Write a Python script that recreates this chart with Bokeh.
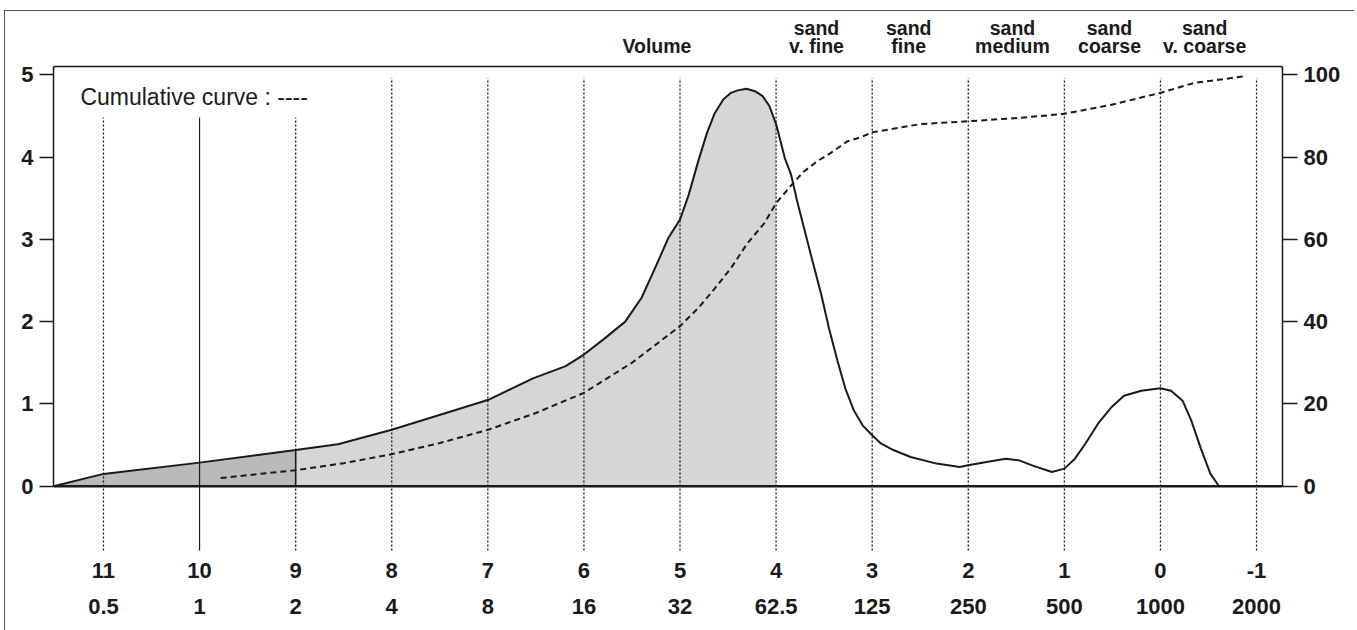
from bokeh.plotting import figure
from bokeh.models import Range1d, LinearAxis, FixedTicker
from bokeh.core.properties import value
from bokeh.embed import file_html
from bokeh.resources import INLINE

# ---------------- data ----------------
phi_ticks = [11, 10, 9, 8, 7, 6, 5, 4, 3, 2, 1, 0, -1]
phi_labels = ["11", "10", "9", "8", "7", "6", "5", "4", "3", "2", "1", "0", "-1"]
micron_labels = ["0.5", "1", "2", "4", "8", "16", "32", "62.5", "125", "250", "500", "1000", "2000"]
left_ticks = [0, 1, 2, 3, 4, 5]
right_ticks = [0, 20, 40, 60, 80, 100]

# volume frequency curve (left axis, %)
vol_phi = [11.52, 11.0, 10.0, 9.0, 8.56, 8.0, 7.0, 6.53, 6.19, 6.0, 5.78, 5.57, 5.40, 5.26, 5.12,
           5.0, 4.91, 4.81, 4.72, 4.64, 4.55, 4.47, 4.40, 4.31, 4.22, 4.14, 4.07, 4.0,
           3.91, 3.845, 3.78, 3.71, 3.62, 3.53, 3.45, 3.36, 3.28, 3.19, 3.10, 3.0, 2.91,
           2.78, 2.60, 2.33, 2.09, 2.0, 1.81, 1.61, 1.47, 1.33, 1.13, 1.0, 0.89, 0.78,
           0.65, 0.51, 0.38, 0.20, 0.0, -0.11, -0.23, -0.32, -0.42, -0.52, -0.61]
vol_val = [0.0, 0.15, 0.287, 0.44, 0.51, 0.686, 1.047, 1.31, 1.46, 1.60, 1.80, 2.0, 2.29, 2.65, 3.02,
           3.24, 3.54, 3.95, 4.29, 4.53, 4.70, 4.78, 4.81, 4.83, 4.80, 4.74, 4.62, 4.40,
           3.99, 3.79, 3.46, 3.14, 2.73, 2.33, 1.92, 1.52, 1.19, 0.92, 0.74, 0.62, 0.52,
           0.44, 0.355, 0.275, 0.234, 0.254, 0.295, 0.335, 0.315, 0.25, 0.174, 0.214, 0.335, 0.52,
           0.76, 0.96, 1.10, 1.16, 1.19, 1.16, 1.04, 0.80, 0.46, 0.15, 0.0]

# cumulative curve (right axis, %)
cum_phi = [9.78, 9.0, 8.5, 8.0, 7.5, 7.0, 6.5, 6.0, 5.5, 5.0, 4.81, 4.64, 4.47, 4.3, 4.12, 4.0,
           3.81, 3.71, 3.57, 3.43, 3.26, 3.12, 3.0, 2.5, 2.0, 1.47, 1.0, 0.51, 0.0, -0.35, -0.87]
cum_pct = [2.0, 3.9, 5.6, 7.8, 10.5, 13.7, 17.8, 22.7, 30.0, 38.9, 43.3, 48.0, 53.0, 59.0, 64.0, 68.8,
           74.0, 76.5, 79.0, 81.0, 83.8, 84.8, 86.0, 88.0, 88.7, 89.5, 90.5, 92.7, 95.6, 98.0, 99.6]

# size classes written above the plot
class_phi = [5.24, 3.58, 2.62, 1.54, 0.53, -0.46]
class_line1 = ["", "sand", "sand", "sand", "sand", "sand"]
class_line2 = ["Volume", "v. fine", "fine", "medium", "coarse", "v. coarse"]

legend_text = "Cumulative curve : ----"

# ---------------- layout constants ----------------
X_LEFT, X_RIGHT = 11.52, -1.27
Y_TOP, Y_BOTTOM = 5.10, -0.805
FONT = "Liberation Sans"
INK = "#1a1a1a"

p = figure(width=1350, height=620,
           x_range=Range1d(X_LEFT, X_RIGHT), y_range=Range1d(Y_BOTTOM, Y_TOP),
           output_backend="svg", toolbar_location=None,
           x_axis_location=None, y_axis_location=None,
           min_border_left=49, min_border_right=72, min_border_top=56, min_border_bottom=78)
p.margin = (10, 3, 0, 4)
p.grid.visible = False
p.outline_line_color = None
p.background_fill_color = "white"
p.border_fill_color = "white"
p.styles = {"outline": "2px solid #222222", "outline-offset": "-2px"}
p.extra_y_ranges = {"cum": Range1d(Y_BOTTOM * 20, Y_TOP * 20)}


def style_axis(ax, size="22px", bold=True):
    ax.major_label_text_font = FONT
    ax.major_label_text_font_size = size
    ax.major_label_text_font_style = "bold" if bold else "normal"
    ax.major_label_text_color = INK
    ax.axis_line_color = INK
    ax.major_tick_line_color = INK
    ax.minor_tick_line_color = None
    ax.axis_line_width = 1.5
    ax.major_tick_line_width = 1.5


left = LinearAxis(ticker=FixedTicker(ticks=left_ticks), bounds=(0, Y_TOP))
style_axis(left)
left.major_tick_out = 14
left.major_tick_in = 0
left.major_label_standoff = 6
p.add_layout(left, "left")

right = LinearAxis(y_range_name="cum", ticker=FixedTicker(ticks=right_ticks), bounds=(0, Y_TOP * 20))
style_axis(right)
right.major_tick_out = 15
right.major_tick_in = 0
right.major_label_standoff = 6
p.add_layout(right, "right")

# top border line + class names (second line)
top1 = LinearAxis(ticker=FixedTicker(ticks=class_phi),
                  major_label_overrides=dict(zip(class_phi, class_line2)))
style_axis(top1, size="19.5px")
top1.major_tick_line_color = None
top1.major_tick_out = 0
top1.major_tick_in = 0
top1.major_label_standoff = 10
p.add_layout(top1, "above")

# class names (first line)
top2 = LinearAxis(ticker=FixedTicker(ticks=class_phi[1:]),
                  major_label_overrides=dict(zip(class_phi[1:], class_line1[1:])))
style_axis(top2, size="19.5px")
top2.axis_line_color = None
top2.major_tick_line_color = None
top2.major_tick_out = 0
top2.major_tick_in = 0
top2.major_label_standoff = -7
p.add_layout(top2, "above")

bot1 = LinearAxis(ticker=FixedTicker(ticks=phi_ticks),
                  major_label_overrides=dict(zip(phi_ticks, phi_labels)))
style_axis(bot1)
bot1.axis_line_color = None
bot1.major_tick_line_color = None
bot1.major_tick_out = 0
bot1.major_label_standoff = 10
p.add_layout(bot1, "below")

bot2 = LinearAxis(ticker=FixedTicker(ticks=phi_ticks),
                  major_label_overrides=dict(zip(phi_ticks, micron_labels)))
style_axis(bot2)
bot2.axis_line_color = None
bot2.major_tick_line_color = None
bot2.major_tick_out = 0
bot2.major_label_standoff = 18
p.add_layout(bot2, "below")

# ---------------- shaded areas ----------------
dark_x = [x for x in vol_phi if x >= 9.0]
dark_y = [v for x, v in zip(vol_phi, vol_val) if x >= 9.0]
light_x = [x for x in vol_phi if 4.0 <= x <= 9.0]
light_y = [v for x, v in zip(vol_phi, vol_val) if 4.0 <= x <= 9.0]
p.varea(x=dark_x, y1=[0] * len(dark_x), y2=dark_y, fill_color="#bababa")
p.varea(x=light_x, y1=[0] * len(light_x), y2=light_y, fill_color="#d6d6d6")

# ---------------- vertical reference lines ----------------
G_BOT = -0.78
dot_x = [t for t in phi_ticks if t != 10]
dot_top = [4.48 if t >= 9 else 4.96 for t in dot_x]
p.segment(x0=dot_x, y0=[G_BOT] * len(dot_x), x1=dot_x, y1=dot_top,
          line_color=INK, line_width=1.3, line_dash="2 2")
sol_x = [10]
p.segment(x0=sol_x, y0=[G_BOT], x1=sol_x, y1=[4.48], line_color=INK, line_width=1.2)
v9 = vol_val[vol_phi.index(9.0)]
p.segment(x0=[9], y0=[0], x1=[9], y1=[v9], line_color=INK, line_width=1.5)

# zero baseline
p.segment(x0=[X_LEFT], y0=[0], x1=[X_RIGHT], y1=[0], line_color=INK, line_width=2.5)

# ---------------- curves ----------------
p.line(vol_phi, vol_val, line_color=INK, line_width=2, line_join="round")
p.line(cum_phi, cum_pct, y_range_name="cum", line_color=INK, line_width=2, line_dash="6 4")

# ---------------- texts ----------------
p.text(x=[11.24], y=[4.73], text=[legend_text], text_font=value(FONT),
       text_font_size="23px", text_baseline="middle", text_align="left", text_color=INK)

open("out.html", "w").write(file_html(p, INLINE))
